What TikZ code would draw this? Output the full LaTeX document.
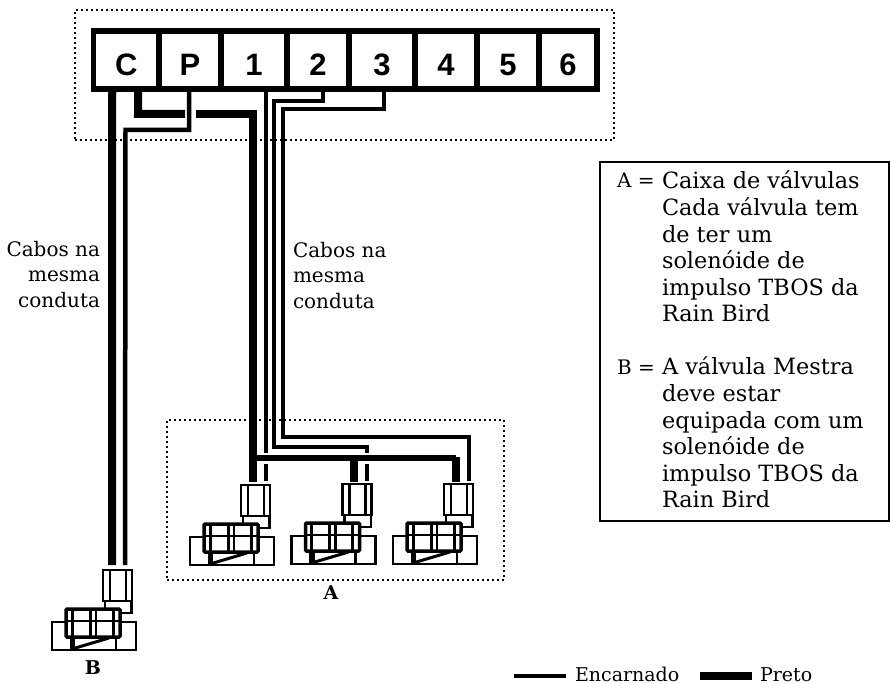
\documentclass[tikz,border=0pt]{standalone}
\usepackage{fontspec}
\usetikzlibrary{calc}
\setmainfont{DejaVu Serif}
\newfontfamily\termfont{Liberation Sans}
\newcommand{\bodysize}{\fontsize{20}{25.7}\selectfont}
\newcommand{\keysize}{\fontsize{22.4}{26.6}\selectfont}
\tikzset{
  terminal/.style={draw,line width=5.5pt,minimum width=#1,minimum height=58pt,inner sep=0pt,outer sep=0pt,text height=32pt,text depth=0pt,font=\termfont\bfseries\fontsize{31}{31}\selectfont},
  dotbox/.style={draw,line width=2pt,dash pattern=on 2pt off 3pt,inner sep=0pt,outer sep=0pt},
  thinw/.style={draw,line width=4.5pt,line join=miter},
  thickw/.style={draw,line width=8pt,line join=miter},
  txt/.style={inner sep=0pt,outer sep=0pt,font=\bodysize},
  keytxt/.style={inner sep=0pt,outer sep=0pt,font=\keysize},
  legendtxt/.style={inner sep=0pt,outer sep=0pt,font=\fontsize{19}{19}\selectfont},
  blabel/.style={inner sep=0pt,outer sep=0pt,font=\bfseries\fontsize{19}{19}\selectfont},
  sol/.style={draw,line width=2.5pt,minimum width=29pt,minimum height=31pt,inner sep=0pt,outer sep=0pt,anchor=north west},
}
\newcommand{\valveunit}[3]{%
  \begin{scope}[shift={(#2,#3)}]
    \draw[line width=2.5pt] (7,0) -- (7,31) (23,0) -- (23,31);
    \node[sol] (#1) at (0,0) {};
    \draw[line width=2.5pt] (2,31) -- (2,39) (28.7,31) -- (28.7,43) -- (17,43);
    % valve base
    \draw[line width=2.5pt] (-37,52) -- (-51,52) -- (-51,80) -- (33,80) -- (33,52) -- (17,52);
    \draw[line width=2.5pt] (-32,67) -- (-32,80) (13,67) -- (13,80);
    \draw[line width=3pt] (-31,79) -- (6,68);
    \fill (-33,67) rectangle (-28,80);
    % valve body
    \draw[line width=3.5pt,rounded corners=1pt] (-37,39) rectangle (17,67);
    \draw[line width=2.5pt] (-37,51) -- (17,51);
    \draw[line width=3pt] (-31,39) -- (-31,67) (-13,39) -- (-13,67) (10,39) -- (10,67);
    \draw[line width=2.5pt] (-7,39) -- (-7,67);
  \end{scope}}
\begin{document}
\begin{tikzpicture}[x=1pt,y=-1pt]
\useasboundingbox (0,0) rectangle (890,684);
% dotted enclosures
\node[dotbox,minimum width=539pt,minimum height=130pt] (ctrl) at (344.5,75) {};
\node[dotbox,minimum width=337pt,minimum height=160pt] (boxA) at (335.5,500) {};
% terminals
\node[terminal=65.5pt] (tC) at (126.25,60) {C};
\node[terminal=62pt] (tP) at (190,60) {P};
\node[terminal=66pt] (t1) at (254,60) {1};
\node[terminal=62pt] (t2) at (318,60) {2};
\node[terminal=66pt] (t3) at (382,60) {3};
\node[terminal=62pt] (t4) at (446,60) {4};
\node[terminal=62pt] (t5) at (508,60) {5};
\node[terminal=58pt] (t6) at (568,60) {6};
% valves
\valveunit{s1}{241}{485}
\valveunit{s2}{342.5}{484}
\valveunit{s3}{444}{484}
\valveunit{sB}{103}{570}
% named junctions
\coordinate (Bthick) at ($(sB.north west)+(9,-5)$);
\coordinate (Bthin) at ($(sB.north west)+(22,-5)$);
\coordinate (k1) at ($(s1.north west)+(11.5,-3)$);
\coordinate (k2) at ($(s2.north west)+(11.5,-2)$);
\coordinate (k3) at ($(s3.north west)+(12,-2)$);
\coordinate (r1) at ($(s1.north west)+(25,-4)$);
\coordinate (r2) at ($(s2.north west)+(24.5,-3)$);
\coordinate (r3) at ($(s3.north west)+(25,-3)$);
% master valve wires
\draw[thickw] ($(tC.south)+(-14,0)$) -- (Bthick);
\draw[thinw] ($(tP.south)+(-1,0)$) |- (125.5,130) -- (Bthin);
% common wire
\draw[thickw] ($(tC.south)+(12,-2)$) -- (138,114) -- (185,114);
\draw[thickw] (196,114.5) -- (252.5,114.5) -- (k1);
\draw[thickw,line width=6.5pt] (252.5,458) -- (456,458);
\draw[thickw] (k2) -- ($(k2)+(0,-25)$);
\draw[thickw] (k3) -- ($(k3)+(0,-25)$);
% station wires
\draw[thinw] ($(t1.south)+(12,0)$) -- (266,453);
\draw[thinw] (266,464) -- (r1);
\draw[thinw] ($(t2.south)+(5,0)$) |- (274,101) -- (274,447) -| (367,453);
\draw[thinw] (367,464) -- (r2);
\draw[thinw] ($(t3.south)+(2,0)$) |- (283,109) -- (283,437) -| (r3);
% texts
\node[txt,anchor=north east,align=right] (lblL) at (100,241) {Cabos na\\mesma\\conduta};
\node[txt,anchor=north west,align=left] (lblR) at (293,242) {Cabos na\\mesma\\conduta};
\node[blabel] (lblA) at (331,593) {A};
\node[blabel] (lblB) at (93,668) {B};
% key
\node[draw,line width=1.5pt,inner sep=0pt,outer sep=0pt,minimum width=289pt,minimum height=359pt] (key) at (744.5,341.5) {};
\node[txt,anchor=base west] (keyA) at (617,188) {A =};
\node[keytxt,anchor=north west,align=left] (keyAt) at (662,171) {Caixa de válvulas\\Cada válvula tem\\de ter um\\solenóide de\\impulso TBOS da\\Rain Bird};
\node[txt,anchor=base west] (keyB) at (617,374) {B =};
\node[keytxt,anchor=north west,align=left] (keyBt) at (662,357) {A válvula Mestra\\deve estar\\equipada com um\\solenóide de\\impulso TBOS da\\Rain Bird};
% legend
\node[legendtxt,anchor=base west] (encar) at (575,681) {Encarnado};
\node[legendtxt,anchor=base west] (preto) at (760,681) {Preto};
\coordinate (la) at (514,676);
\coordinate (la2) at (566,676);
\coordinate (lb) at (700,676);
\coordinate (lb2) at (752,676);
\draw[thinw,line width=3.5pt] (la) -- (la2);
\draw[thickw] (lb) -- (lb2);
\end{tikzpicture}
\end{document}
